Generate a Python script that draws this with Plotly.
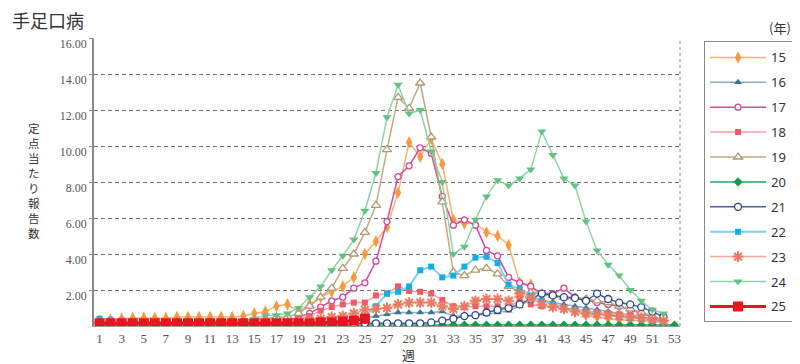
import plotly.graph_objects as go

weeks = list(range(1, 54))

s15 = [0.3, 0.35, 0.4, 0.45, 0.45, 0.45, 0.45, 0.5, 0.5, 0.5, 0.5, 0.5, 0.5, 0.55, 0.7, 0.8, 1.1, 1.2, 0.8, 1.2,
       1.6, 1.9, 2.2, 2.7, 4.0, 4.7, 5.5, 7.4, 10.2, 9.4, 10.4, 9.0, 5.9, 5.7, 5.7, 5.2, 5.0, 4.5, 2.4, 2.3,
       1.5, 1.3, 1.0, 0.8, 0.6, 0.5, 0.4, 0.35, 0.3, 0.3, 0.25, 0.2]
s16 = [0.15, 0.15, 0.15, 0.15, 0.15, 0.15, 0.15, 0.15, 0.15, 0.15, 0.15, 0.15, 0.15, 0.15, 0.15, 0.15, 0.15, 0.15, 0.15, 0.15,
       0.2, 0.25, 0.3, 0.35, 0.45, 0.55, 0.65, 0.75, 0.75, 0.75, 0.75, 0.8, 0.55, 0.55, 0.6, 0.65, 0.75, 0.85, 1.1, 1.5,
       1.4, 1.3, 1.2, 1.1, 1.0, 0.9, 0.8, 0.7, 0.6, 0.5, 0.4, 0.25]
s17 = [0.15, 0.15, 0.15, 0.15, 0.15, 0.15, 0.15, 0.15, 0.15, 0.15, 0.15, 0.15, 0.15, 0.15, 0.15, 0.2, 0.2, 0.3, 0.5, 0.7,
       1.05, 1.4, 1.6, 2.1, 2.4, 3.6, 5.8, 8.3, 8.9, 9.9, 9.6, 7.2, 5.6, 5.9, 5.6, 4.2, 3.9, 2.7, 2.4, 2.2,
       1.8, 1.8, 2.1, 1.6, 1.45, 1.3, 1.2, 1.1, 0.9, 0.7, 0.5, 0.3]
s18 = [0.15, 0.15, 0.15, 0.15, 0.15, 0.15, 0.15, 0.15, 0.15, 0.15, 0.15, 0.15, 0.15, 0.15, 0.15, 0.15, 0.2, 0.3, 0.4, 0.55,
       0.85, 1.05, 1.2, 1.3, 1.3, 1.7, 1.8, 2.2, 1.95, 1.9, 1.8, 1.45, 1.1, 1.05, 1.1, 1.1, 1.1, 0.95, 1.5, 1.2,
       1.1, 1.1, 1.0, 0.9, 0.85, 0.75, 0.7, 0.65, 0.6, 0.5, 0.4, 0.25]
s19 = [0.2, 0.2, 0.2, 0.2, 0.2, 0.2, 0.2, 0.25, 0.25, 0.25, 0.25, 0.3, 0.3, 0.3, 0.35, 0.4, 0.5, 0.5, 0.7, 1.1,
       1.6, 2.1, 3.2, 4.0, 5.2, 6.7, 9.8, 12.7, 12.1, 13.5, 10.5, 6.9, 3.0, 2.8, 3.1, 3.2, 2.9, 2.2, 1.9, 1.85,
       1.8, 1.7, 1.6, 1.6, 1.5, 1.4, 1.3, 1.1, 0.95, 0.75, 0.55, 0.35]
s20 = [0.05] * 53
s21 = [0.1, 0.1, 0.1, 0.1, 0.1, 0.1, 0.1, 0.1, 0.1, 0.1, 0.1, 0.1, 0.1, 0.1, 0.1, 0.1, 0.1, 0.1, 0.1, 0.1,
       0.1, 0.1, 0.1, 0.12, 0.15, 0.15, 0.15, 0.15, 0.15, 0.15, 0.2, 0.3, 0.4, 0.55, 0.6, 0.75, 0.9, 1.0, 1.2, 1.5,
       1.8, 1.7, 1.6, 1.55, 1.4, 1.8, 1.5, 1.3, 1.2, 1.05, 0.8, 0.5]
s22 = [0.4, 0.35, 0.3, 0.15, 0.15, 0.15, 0.15, 0.15, 0.15, 0.15, 0.15, 0.15, 0.15, 0.15, 0.15, 0.15, 0.15, 0.15, 0.15, 0.15,
       0.2, 0.2, 0.25, 0.3, 0.55, 1.1, 1.8, 1.9, 2.2, 3.1, 3.3, 2.7, 2.8, 3.3, 3.8, 3.85, 3.5, 2.3, 2.05, 1.7,
       1.4, 1.2, 1.0, 0.9, 0.8, 0.7, 0.6, 0.5, 0.45, 0.4, 0.3, 0.2]
s23 = [0.2, 0.2, 0.2, 0.2, 0.2, 0.2, 0.2, 0.2, 0.2, 0.2, 0.2, 0.2, 0.2, 0.2, 0.2, 0.2, 0.2, 0.2, 0.2, 0.3,
       0.4, 0.5, 0.55, 0.7, 0.9, 0.95, 1.0, 1.2, 1.3, 1.3, 1.3, 1.1, 0.95, 1.1, 1.4, 1.5, 1.5, 1.4, 1.8, 1.55,
       1.2, 1.05, 0.95, 0.8, 0.7, 0.65, 0.6, 0.55, 0.5, 0.45, 0.35, 0.3]
s24 = [0.2, 0.2, 0.2, 0.2, 0.2, 0.2, 0.2, 0.2, 0.2, 0.2, 0.2, 0.2, 0.2, 0.25, 0.4, 0.6, 0.6, 0.7, 1.0, 1.6,
       2.2, 3.1, 3.9, 4.8, 6.4, 8.5, 11.6, 13.4, 11.8, 12.0, 9.7, 8.0, 4.0, 4.4, 5.9, 7.2, 8.1, 7.8, 8.2, 8.7,
       10.8, 9.5, 8.2, 7.8, 5.8, 4.2, 3.4, 2.8, 2.0, 1.4, 0.9, 0.7]
s25 = [0.15, 0.15, 0.15, 0.15, 0.15, 0.15, 0.15, 0.15, 0.15, 0.15, 0.15, 0.15, 0.15, 0.15, 0.15, 0.15, 0.15, 0.15, 0.15, 0.15,
       0.2, 0.2, 0.25, 0.3, 0.4]

series_names = ["15", "16", "17", "18", "19", "20", "21", "22", "23", "24", "25"]
series_values = [s15, s16, s17, s18, s19, s20, s21, s22, s23, s24, s25]

y_ticks = [2, 4, 6, 8, 10, 12, 14, 16]
y_tick_labels = ["2.00", "4.00", "6.00", "8.00", "10.00", "12.00", "14.00", "16.00"]
x_ticks = list(range(1, 54, 2))

title_text = "手足口病"
y_title_text = "定点当たり報告数"
x_title_text = "週"
legend_title_text = "(年)"

styles = {
    "15": dict(lc="#F8B26A", mc="#F79A3E", sym="diamond-tall", size=9, fill=None, lw=1.5),
    "16": dict(lc="#8AAFC0", mc="#3A7690", sym="triangle-up", size=7, fill=None, lw=1.5),
    "17": dict(lc="#D2489C", mc="#D2489C", sym="circle", size=6, fill="white", lw=1.5),
    "18": dict(lc="#F6A0A4", mc="#EF5A66", sym="square", size=6, fill=None, lw=1.5),
    "19": dict(lc="#BFAA82", mc="#AE9870", sym="triangle-up", size=8, fill="white", lw=1.5),
    "20": dict(lc="#23A85A", mc="#139A4A", sym="diamond", size=7, fill=None, lw=1.5),
    "21": dict(lc="#4A5E98", mc="#2D4488", sym="circle", size=7, fill="white", lw=1.5),
    "22": dict(lc="#7FD0F0", mc="#12AEE4", sym="square", size=6, fill=None, lw=2),
    "23": dict(lc="#F4A79A", mc="#EC7A62", sym="asterisk-open", size=9, fill=None, lw=1.5),
    "24": dict(lc="#8ED3A6", mc="#62C183", sym="triangle-down", size=8, fill=None, lw=1.5),
    "25": dict(lc="#E8141E", mc="#E8141E", sym="square", size=10, fill=None, lw=3),
}

fig = go.Figure()
for name, vals in zip(series_names, series_values):
    st = styles[name]
    if st["fill"] is not None:
        marker = dict(symbol=st["sym"], size=st["size"], color=st["fill"],
                      line=dict(color=st["mc"], width=1.3))
    elif st["sym"] == "asterisk-open":
        marker = dict(symbol=st["sym"], size=st["size"], color=st["mc"],
                      line=dict(color=st["mc"], width=2))
    else:
        marker = dict(symbol=st["sym"], size=st["size"], color=st["mc"], line=dict(width=0))
    fig.add_trace(go.Scatter(
        x=weeks[:len(vals)], y=vals, name=name, mode="lines+markers",
        line=dict(color=st["lc"], width=st["lw"]), marker=marker,
        legendgroup=name,
    ))

annotations = [
    dict(text="<br>".join(list(y_title_text)), xref="paper", yref="paper",
         x=-0.103, y=0.505, showarrow=False, xanchor="center", yanchor="middle",
         font=dict(size=11.5, color="#333333", family="Noto Sans CJK JP")),
    dict(text=x_title_text, xref="paper", yref="paper", x=0.536, y=-0.1, showarrow=False,
         xanchor="center", yanchor="middle",
         font=dict(size=13, color="#333333", family="Noto Sans CJK JP")),
    dict(text=legend_title_text, xref="paper", yref="paper", x=1.193, y=1.036, showarrow=False,
         xanchor="right", yanchor="middle",
         font=dict(size=13, color="#333333", family="Noto Sans CJK JP")),
]

# The page body has an 8px default margin, so the figure is 792x356 and sits at (8, 8).
fig.update_layout(
    width=792, height=356,
    margin=dict(l=86, r=120, t=30, b=38, autoexpand=False),
    paper_bgcolor="white", plot_bgcolor="white",
    font=dict(family="Noto Sans CJK JP", color="#333333"),
    title=dict(text=title_text, x=4 / 792, xref="container", xanchor="left",
               y=1 - 13.5 / 356, yref="container", yanchor="middle",
               font=dict(size=18, color="#333333", family="Noto Sans CJK JP")),
    showlegend=True,
    legend=dict(x=1.041, xanchor="left", y=0.988, yanchor="top",
                bordercolor="#888888", borderwidth=1, bgcolor="white",
                font=dict(size=13, color="#333333", family="Noto Sans"),
                tracegroupgap=5, itemwidth=56, traceorder="grouped"),
    xaxis=dict(range=[0.5, 53.5], tickvals=x_ticks, ticks="", showgrid=False,
               zeroline=False, showline=True, linecolor="#999999", linewidth=1,
               tickfont=dict(family="Liberation Serif", size=13, color="#555555")),
    yaxis=dict(range=[0, 16], tickvals=y_ticks, ticktext=y_tick_labels,
               ticks="outside", ticklen=3, tickcolor="#888888",
               showgrid=True, gridcolor="#6E6E6E", gridwidth=1, griddash="4px,3px",
               zeroline=False, showline=True, linecolor="#8A8A8A", linewidth=1.5,
               ticklabelshift=6,
               tickfont=dict(family="Liberation Serif", size=12, color="#555555")),
    shapes=[dict(type="line", xref="paper", yref="paper", x0=1, x1=1, y0=0, y1=1,
                 line=dict(color="#888888", width=1, dash="dot"))],
    annotations=annotations,
)

fig.write_html("out.html")
